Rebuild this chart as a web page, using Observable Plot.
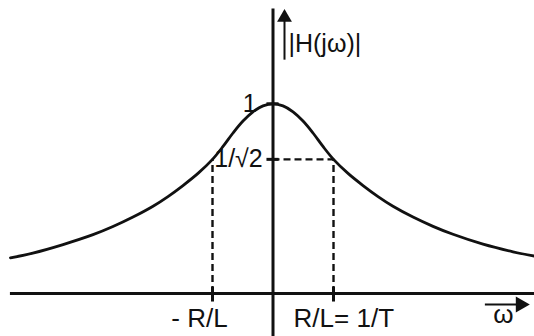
<!DOCTYPE html>
<html>
<head>
<meta charset="utf-8">
<script src="https://cdn.jsdelivr.net/npm/d3@7"></script>
<script src="https://cdn.jsdelivr.net/npm/@observablehq/plot@0.6"></script>
<style>
  html, body { margin: 0; padding: 0; background: #fff; }
  #chart svg { display: block; }
</style>
</head>
<body>
<div id="chart"></div>
<script>
// Magnitude response |H(jω)| of the first-order low-pass, ω in units of R/L
const omega = [-4.34, -3.97, -3.47, -2.975, -2.645, -2.314, -1.983, -1.736, -1.488, -1.24,
               -1.00, -0.826, -0.661, -0.496, -0.331, -0.165, 0.00,
               0.165, 0.331, 0.496, 0.661, 0.826, 1.00,
               1.24, 1.488, 1.736, 1.983, 2.314, 2.645, 2.975, 3.471, 3.967, 4.322];
const magnitude = [0.188, 0.213, 0.258, 0.310, 0.353, 0.403, 0.460, 0.511, 0.569, 0.633,
                   0.707, 0.775, 0.846, 0.909, 0.958, 0.989, 1.000,
                   0.989, 0.958, 0.909, 0.846, 0.775, 0.707,
                   0.633, 0.569, 0.511, 0.460, 0.403, 0.354, 0.312, 0.260, 0.220, 0.197];

// Marked points on the axes
const cutoff = [-1, 1];               // ω = ∓R/L
const halfPower = Math.SQRT1_2;       // 1/√2
const peak = 1;

// Tick labels
const xLabels = [
  {w: -1.68, text: "- R/L"},
  {w: 0.34, text: "R/L= 1/T"}
];
const yLabels = [
  {v: peak, w: -0.27, text: "1"},
  {v: halfPower, w: -0.17, text: "1/√2"}
];

const curve = omega.map((w, i) => ({w, m: magnitude[i]}));
const ink = "#111";
const font = "Liberation Sans, Arial, sans-serif";

const chart = Plot.plot({
  width: 534,
  height: 336,
  margin: 0,
  x: {domain: [-4.504, 4.322], axis: null},
  y: {domain: [-0.2267, 1.5445], axis: null},
  style: {fontFamily: font, background: "#fff"},
  marks: [
    // dashed guides at the cutoff frequency
    Plot.ruleX(cutoff, {y1: 0, y2: halfPower, stroke: ink, strokeWidth: 2.4, strokeDasharray: "7,4"}),
    Plot.ruleY([halfPower], {x1: 0, x2: cutoff[1], stroke: ink, strokeWidth: 2.4, strokeDasharray: "7,4"}),
    // axes
    Plot.ruleY([0], {x1: -4.34, x2: 4.322, stroke: ink, strokeWidth: 3}),
    Plot.ruleX([0], {y1: -0.2267, y2: 1.50, stroke: ink, strokeWidth: 3}),
    // axis ticks
    Plot.ruleX(cutoff, {y1: -0.045, y2: 0.032, stroke: ink, strokeWidth: 3}),
    Plot.ruleY([peak, halfPower], {x1: -0.1, x2: 0.1, stroke: ink, strokeWidth: 3}),
    // response curve
    Plot.line(curve, {x: "w", y: "m", curve: "catmull-rom", stroke: ink, strokeWidth: 2.8}),
    // direction arrow beside the vertical axis
    Plot.ruleX([0.19], {y1: 1.23, y2: 1.44, stroke: ink, strokeWidth: 2}),
    Plot.dot([0.19], {x: d => d, y: 1.455, symbol: "triangle", r: 5.5, fill: ink, stroke: null}),
    // direction arrow above ω
    Plot.ruleY([-0.058], {x1: 3.51, x2: 4.06, stroke: ink, strokeWidth: 2}),
    Plot.dot([4.09], {x: d => d, y: -0.058, symbol: "triangle", rotate: 90, r: 6, fill: ink, stroke: null}),
    // labels
    Plot.text(["|H(jω)|"], {x: 0.256, y: 1.272, text: d => d, textAnchor: "start", lineAnchor: "bottom", fontSize: 25, fill: ink}),
    Plot.text(yLabels, {x: "w", y: "v", dy: 8, text: "text", textAnchor: "end", lineAnchor: "bottom", fontSize: 25, fill: ink}),
    Plot.text(xLabels, {x: "w", y: -0.179, text: "text", textAnchor: "start", lineAnchor: "bottom", fontSize: 26, fill: ink}),
    Plot.text(["ω"], {x: 3.81, y: -0.153, text: d => d, textAnchor: "middle", lineAnchor: "bottom", fontSize: 26, fill: ink})
  ]
});

document.getElementById("chart").appendChild(chart);
</script>
</body>
</html>
